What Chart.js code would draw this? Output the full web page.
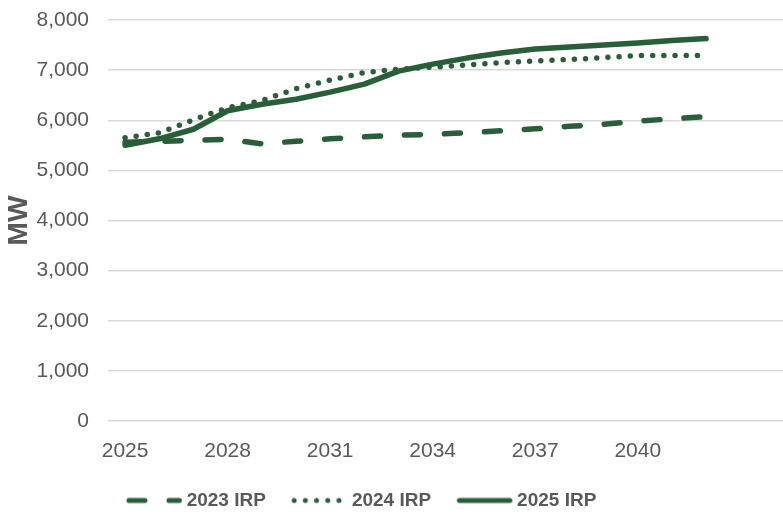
<!DOCTYPE html>
<html>
<head>
<meta charset="utf-8">
<script src="https://cdn.jsdelivr.net/npm/chart.js@4.4.1/dist/chart.umd.min.js"></script>
<style>
  html, body { margin: 0; padding: 0; background: #ffffff; overflow: hidden; }
</style>
</head>
<body>
<canvas id="irpChart" width="783" height="517"></canvas>
<script>
// --- data ---
const years = [2025, 2026, 2027, 2028, 2029, 2030, 2031, 2032, 2033, 2034, 2035, 2036, 2037, 2038, 2039, 2040, 2041, 2042];
const irp2023 = [5560, 5580, 5600, 5620, 5530, 5580, 5630, 5670, 5700, 5720, 5750, 5790, 5830, 5880, 5920, 5980, 6030, 6070];
const irp2024 = [5650, 5750, 6010, 6250, 6390, 6630, 6800, 6950, 7020, 7060, 7100, 7150, 7180, 7210, 7250, 7290, 7290, 7290];
const irp2025 = [5500, 5630, 5820, 6190, 6320, 6420, 6560, 6720, 6980, 7120, 7240, 7340, 7420, 7460, 7500, 7540, 7590, 7630];
const xTickYears = [2025, 2028, 2031, 2034, 2037, 2040];
const seriesNames = ["2023 IRP", "2024 IRP", "2025 IRP"];

const GREEN = "#285e38";
const GREY_TEXT = "#595959";
const FONT = "'Liberation Sans', Arial, sans-serif";

// legend samples: small canvases with the same dash as the line
// (blank space on the left of each one keeps the gap between items)
function makeSample(dash) {
  const c = document.createElement("canvas");
  c.width = 78;
  c.height = 10;
  const g = c.getContext("2d");
  g.strokeStyle = GREEN;
  g.lineWidth = 5;
  g.lineCap = "round";
  g.setLineDash(dash);
  g.beginPath();
  g.moveTo(24, 5);
  g.lineTo(74.5, 5);
  g.stroke();
  return c;
}

const dashes = [[16, 24], [0, 11.2], []];
const samples = dashes.map(makeSample);

function toPoints(vals) {
  return vals.map((v, i) => ({ x: years[i], y: v }));
}

// the original legend sits a bit left of centre
const legendShift = {
  id: "legendShift",
  afterLayout(chart) {
    chart.legend.left -= 38;
    chart.legend.right -= 38;
  },
};

const ctx = document.getElementById("irpChart").getContext("2d");
const chart = new Chart(ctx, {
  type: "line",
  data: {
    datasets: [irp2023, irp2024, irp2025].map((vals, i) => ({
      label: seriesNames[i],
      data: toPoints(vals),
      borderColor: GREEN,
      backgroundColor: GREEN,
      borderWidth: 5.5,
      borderDash: dashes[i],
      borderCapStyle: "round",
      borderJoinStyle: "round",
      pointRadius: 0,
      tension: 0,
      order: 2 - i,
    })),
  },
  options: {
    responsive: false,
    animation: false,
    devicePixelRatio: 1,
    layout: { padding: { top: 20, right: 0, bottom: -3, left: 0 } },
    scales: {
      x: {
        type: "linear",
        min: 2024.5,
        max: 2044.25,
        afterBuildTicks(axis) {
          axis.ticks = xTickYears.map((v) => ({ value: v }));
        },
        afterFit(axis) {
          axis.height = 60;
        },
        grid: { display: false },
        border: { display: false },
        ticks: {
          color: GREY_TEXT,
          font: { family: FONT, size: 21 },
          padding: 10,
          maxRotation: 0,
          callback: (v) => String(v),
        },
      },
      y: {
        min: 0,
        max: 8000,
        afterFit(axis) {
          axis.width = 108;
          // keep the top of the plot at the layout padding only
          axis.paddingTop = 0;
          axis.paddingBottom = 0;
        },
        grid: { color: "#d9d9d9", lineWidth: 1.5, drawTicks: false },
        border: { display: false },
        ticks: {
          stepSize: 1000,
          color: GREY_TEXT,
          font: { family: FONT, size: 21 },
          padding: 19,
          callback: (v) => v.toLocaleString("en-US"),
        },
        title: {
          display: true,
          text: "MW",
          color: GREY_TEXT,
          font: { family: FONT, size: 28, weight: "bold" },
          padding: { top: 2, bottom: 0 },
        },
      },
    },
    plugins: {
      legend: {
        position: "bottom",
        labels: {
          usePointStyle: true,
          pointStyleWidth: 66.5,
          boxHeight: 10,
          padding: 10,
          color: GREY_TEXT,
          font: { family: FONT, size: 19, weight: "bold" },
          sort: (a, b) => a.datasetIndex - b.datasetIndex,
          generateLabels(chart) {
            const items = Chart.defaults.plugins.legend.labels.generateLabels(chart);
            items.forEach((it) => {
              it.pointStyle = samples[it.datasetIndex];
            });
            return items;
          },
        },
      },
      tooltip: { enabled: false },
    },
  },
  plugins: [legendShift],
});
</script>
</body>
</html>
